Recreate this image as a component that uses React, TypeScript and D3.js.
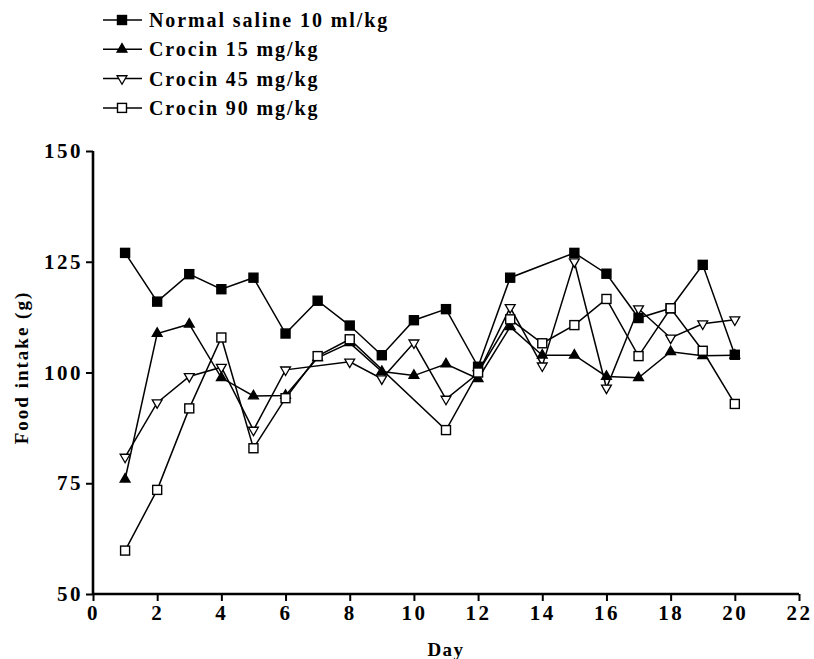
import React, { useRef, useEffect } from "react";
import * as d3 from "d3";

// Daily food intake (g); null = no point that day
const days = [1, 2, 3, 4, 5, 6, 7, 8, 9, 10, 11, 12, 13, 14, 15, 16, 17, 18, 19, 20];
const saline = [127.0, 116.0, 122.2, 118.8, 121.4, 108.8, 116.2, 110.6, 103.9, 111.8, 114.3, 101.3, 121.4, null, 127.0, 122.3, 112.3, 114.5, 124.3, 104.0];
const crocin15 = [75.9, 108.8, 110.9, 98.8, 94.7, 94.8, 103.3, 106.7, 100.2, 99.3, 101.9, 98.6, 110.3, 103.9, 103.9, 99.1, 98.8, 104.7, 103.8, 103.9];
const crocin45 = [80.9, 93.2, 99.1, 101.2, 87.0, 100.6, null, 102.4, 98.6, 106.7, 94.0, 99.8, 114.7, 101.5, 125.0, 96.5, 114.4, 107.8, 111.0, 111.9];
const crocin90 = [59.8, 73.5, 91.9, 107.9, 82.9, 94.2, 103.7, 107.5, null, null, 87.0, 100.0, 112.0, 106.6, 110.7, 116.6, 103.7, 114.5, 104.9, 92.9];

const xTicks = [0, 2, 4, 6, 8, 10, 12, 14, 16, 18, 20, 22];
const yTicks = [50, 75, 100, 125, 150];

const series = [
  { name: "Normal saline 10 ml/kg", values: saline, shape: "square", filled: true },
  { name: "Crocin 15 mg/kg", values: crocin15, shape: "up", filled: true },
  { name: "Crocin 45 mg/kg", values: crocin45, shape: "down", filled: false },
  { name: "Crocin 90 mg/kg", values: crocin90, shape: "square", filled: false },
];

const W = 814, H = 659;
const FONT = "'Liberation Serif', 'Times New Roman', serif";

const drawMarker = (g, shape, filled, cx, cy) => {
  const fill = filled ? "#000" : "#fff";
  if (shape === "square") {
    g.append("rect")
      .attr("x", cx - 4.5).attr("y", cy - 4.5)
      .attr("width", 9).attr("height", 9)
      .attr("fill", fill).attr("stroke", "#000").attr("stroke-width", 1.4);
  } else {
    const sym = d3.symbol().type(d3.symbolTriangle).size(42);
    g.append("path")
      .attr("d", sym())
      .attr("transform", `translate(${cx},${cy})${shape === "down" ? " rotate(180)" : ""}`)
      .attr("fill", fill).attr("stroke", "#000").attr("stroke-width", 1.3);
  }
};

const App = () => {
  const svgRef = useRef();

  useEffect(() => {
    const svg = d3.select(svgRef.current);
    svg.selectAll("*").remove();

    const x = d3.scaleLinear().domain([0, 22]).range([93, 799]);
    const y = d3.scaleLinear().domain([50, 150]).range([594, 151]);

    // Y axis
    const yAxis = svg.append("g")
      .attr("transform", "translate(93,0)")
      .call(d3.axisLeft(y).tickValues(yTicks).tickSize(7).tickPadding(3));
    // X axis
    const xAxis = svg.append("g")
      .attr("transform", "translate(0,594)")
      .call(d3.axisBottom(x).tickValues(xTicks).tickSize(7).tickPadding(4));

    [yAxis, xAxis].forEach((ax) => {
      ax.select(".domain").attr("stroke", "#000").attr("stroke-width", 2.6);
      ax.selectAll(".tick line").attr("stroke", "#000").attr("stroke-width", 2);
      ax.selectAll("text")
        .attr("fill", "#000")
        .style("font-family", FONT)
        .style("font-weight", "bold")
        .style("font-size", "21px")
        .style("letter-spacing", "2.5px");
    });
    // keep the domain ends flat (no outer ticks)
    yAxis.select(".domain").attr("d", `M0,${y(150)}V${y(50)}`);
    xAxis.select(".domain").attr("d", `M${x(0)},0H${x(22)}`);

    // Axis titles
    svg.append("text")
      .attr("transform", `translate(28,${(y(50) + y(150)) / 2 - 5}) rotate(-90)`)
      .attr("text-anchor", "middle")
      .style("font-family", FONT).style("font-weight", "bold")
      .style("font-size", "19px").style("letter-spacing", "2px")
      .text("Food intake (g)");
    svg.append("text")
      .attr("x", (x(0) + x(22)) / 2)
      .attr("y", 656)
      .attr("text-anchor", "middle")
      .style("font-family", FONT).style("font-weight", "bold")
      .style("font-size", "19px").style("letter-spacing", "1.5px")
      .text("Day");

    // Lines and markers
    series.forEach((s) => {
      const pts = days
        .map((d, i) => ({ day: d, v: s.values[i] }))
        .filter((p) => p.v !== null);
      const line = d3.line().x((p) => x(p.day)).y((p) => y(p.v));
      svg.append("path")
        .datum(pts)
        .attr("d", line)
        .attr("fill", "none")
        .attr("stroke", "#000")
        .attr("stroke-width", 1.5);
      const g = svg.append("g");
      pts.forEach((p) => drawMarker(g, s.shape, s.filled, x(p.day), y(p.v)));
    });

    // Legend
    series.forEach((s, i) => {
      const ly = 20 + i * 29.3;
      const g = svg.append("g");
      g.append("line")
        .attr("x1", 103).attr("x2", 142)
        .attr("y1", ly).attr("y2", ly)
        .attr("stroke", "#000").attr("stroke-width", 1.5);
      drawMarker(g, s.shape, s.filled, 122, ly);
      g.append("text")
        .attr("x", 149)
        .attr("y", ly + 7)
        .style("font-family", FONT).style("font-weight", "bold")
        .style("font-size", "20px").style("letter-spacing", "1.9px")
        .text(s.name);
    });
  }, []);

  return (
    <svg ref={svgRef} width={W} height={H} style={{ position: "absolute", left: 0, top: 0, background: "#fff" }} />
  );
};

export default App;
